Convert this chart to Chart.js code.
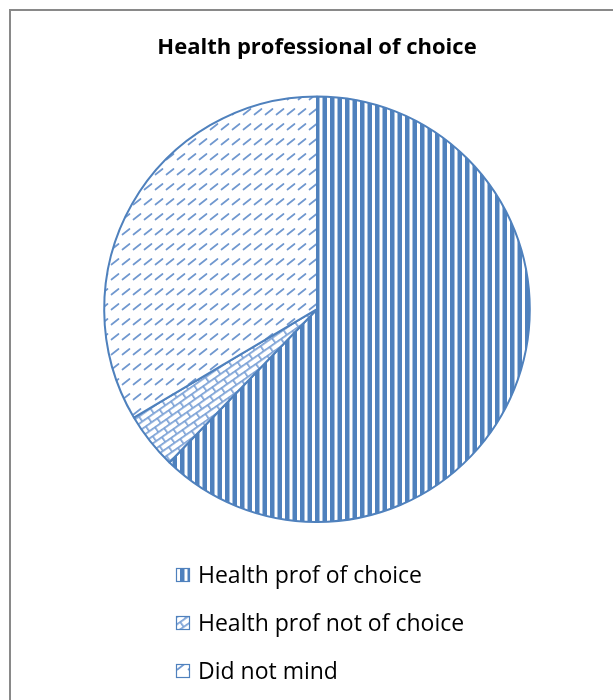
<!DOCTYPE html>
<html>
<head>
<meta charset="utf-8">
<script src="https://cdn.jsdelivr.net/npm/chart.js@4.4.1/dist/chart.umd.min.js"></script>
<style>
    body { margin: 0; background: #fff; overflow: hidden; }
    #frame { position: absolute; left: 9px; top: 9px; width: 700px; height: 800px; border: 2px solid #898989; }
    #wrap { position: absolute; left: 0; top: 0; width: 613px; height: 700px; }
</style>
</head>
<body>
<div id="frame"></div>
<div id="wrap"><canvas id="choiceChart"></canvas></div>
<script>
const chartTitle = 'Health professional of choice';
const categories = ['Health prof of choice', 'Health prof not of choice', 'Did not mind'];
const shares = [62.2, 4.3, 33.5];

const BLUE = '#4f81bd';

function makeTile(w, h, draw) {
    const c = document.createElement('canvas');
    c.width = w;
    c.height = h;
    const g = c.getContext('2d');
    g.fillStyle = '#fff';
    g.fillRect(0, 0, w, h);
    draw(g);
    return c;
}

// wide vertical stripes
function stripePattern(ctx) {
    const tile = makeTile(15, 4, g => {
        g.fillStyle = BLUE;
        g.fillRect(0, 0, 4.5, 4);
        g.fillRect(7.5, 0, 4.5, 4);
    });
    return ctx.createPattern(tile, 'repeat');
}

// diagonal brick
function brickPattern(ctx) {
    const tile = makeTile(14, 12, g => {
        g.strokeStyle = '#7ca2d6';
        g.lineWidth = 1.7;
        g.beginPath();
        g.moveTo(0, 0.85); g.lineTo(14, 0.85);
        g.moveTo(0, 6.85); g.lineTo(14, 6.85);
        g.moveTo(0.85, 0); g.lineTo(0.85, 6.85);
        g.moveTo(7.85, 6.85); g.lineTo(7.85, 12);
        g.stroke();
    });
    const p = ctx.createPattern(tile, 'repeat');
    p.setTransform(new DOMMatrix().rotateSelf(-35));
    return p;
}

// dashed upward diagonal
function dashPattern(ctx) {
    const tile = makeTile(11, 15, g => {
        g.strokeStyle = '#7098cf';
        g.lineWidth = 1.7;
        g.lineCap = 'round';
        g.beginPath();
        g.moveTo(1.5, 9.5);
        g.lineTo(8.5, 4);
        g.stroke();
    });
    return ctx.createPattern(tile, 'repeat');
}

// one legend entry per line, under the pie
const stackedLegend = {
    id: 'stackedLegend',
    afterDraw(chart) {
        const ctx = chart.ctx;
        const fills = chart.data.datasets[0].backgroundColor;
        const top = chart.chartArea.bottom + 52;
        ctx.save();
        ctx.font = '23px "Open Sans"';
        ctx.textBaseline = 'middle';
        chart.data.labels.forEach((label, i) => {
            const y = top + i * 48;
            ctx.fillStyle = fills[i];
            ctx.fillRect(176, y - 7, 14, 14);
            ctx.strokeStyle = BLUE;
            ctx.lineWidth = 1.2;
            ctx.strokeRect(176.5, y - 6.5, 13, 13);
            ctx.fillStyle = '#000';
            ctx.fillText(label, 198, y + 1);
        });
        ctx.restore();
    }
};

const ctx = document.getElementById('choiceChart').getContext('2d');

new Chart(ctx, {
    type: 'pie',
    data: {
        labels: categories,
        datasets: [{
            data: shares,
            backgroundColor: [stripePattern(ctx), brickPattern(ctx), dashPattern(ctx)],
            borderColor: BLUE,
            borderWidth: 2
        }]
    },
    options: {
        responsive: true,
        maintainAspectRatio: false,
        animation: false,
        events: [],
        layout: {
            padding: { left: 103, right: 82, top: 0, bottom: 177 }
        },
        plugins: {
            legend: { display: false },
            tooltip: { enabled: false },
            title: {
                display: true,
                text: chartTitle,
                color: '#000',
                font: { family: 'Open Sans', size: 22, weight: 'bold', lineHeight: 1.2 },
                padding: { top: 35, bottom: 34 }
            }
        }
    },
    plugins: [stackedLegend]
});
</script>
</body>
</html>
